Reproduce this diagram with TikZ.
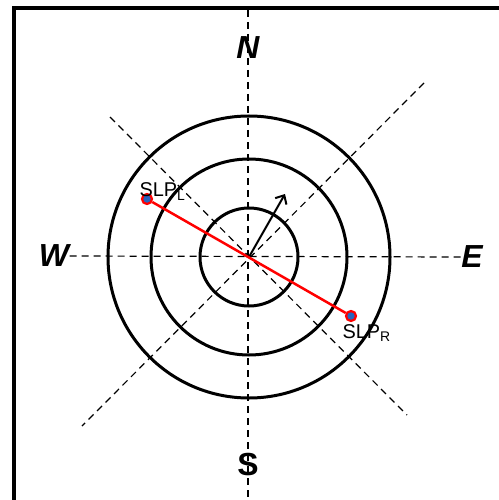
\documentclass[tikz,border=0pt]{standalone}
\usepackage{fontspec}
\setmainfont{Liberation Sans}
\usetikzlibrary{arrows.meta}
\definecolor{slpblue}{RGB}{40,100,190}

\begin{document}
\begin{tikzpicture}[x=1bp, y=-1bp, line width=1bp]
\tikzset{
  axisline/.style={dash pattern=on 7bp off 5bp, line width=1.2bp},
  ringline/.style={line width=3bp},
  compass/.style={font=\fontsize{32}{32}\selectfont\bfseries\itshape, inner sep=0pt},
  slpdot/.style={circle, draw=red, fill=slpblue, line width=2.2bp, minimum size=10bp, inner sep=0pt},
  slplabel/.style={font=\fontsize{20}{20}\selectfont, inner sep=0pt}
}
\useasboundingbox (0,0) rectangle (499,500);
\draw[line width=4bp] (14,8) rectangle (530,530);

\coordinate (o) at (249,257);
\coordinate (ntop) at (248,10);
\coordinate (sbot) at (248,502);
\coordinate (nwend) at (110,117);
\coordinate (seend) at (407,415);
\coordinate (neend) at (424,83);
\coordinate (swend) at (82,426);
\coordinate (heading) at (285,194);

\node[compass] (n) at (248,48) {N};
\node[compass, font=\fontsize{32}{32}\selectfont\bfseries] (s) at (248,465) {S};
\node[compass] (w) at (54,256) {W};
\node[compass] (e) at (472,257) {E};

\draw[axisline] (ntop) -- (sbot);
\draw[axisline] (w.east) -- (e.west);
\draw[axisline] (nwend) -- (seend);
\draw[axisline] (neend) -- (swend);

\draw[ringline] (o) circle[radius=49];
\draw[ringline] (o) circle[radius=98];
\draw[ringline] (o) circle[radius=141];

\draw[line width=2bp, -{Straight Barb[length=7bp, width=13bp, line width=2bp]}] (o) -- (heading);

\node[slpdot] (slpl) at (147,199) {};
\node[slpdot] (slpr) at (351,316) {};
\draw[red, line width=2.5bp] (slpl) -- (slpr);
\node[slplabel, anchor=base west] (slpltext) at (139,197) {SLP\textsubscript{L}};
\node[slplabel, anchor=base west] (slprtext) at (342,338) {SLP\textsubscript{R}};
\end{tikzpicture}
\end{document}
